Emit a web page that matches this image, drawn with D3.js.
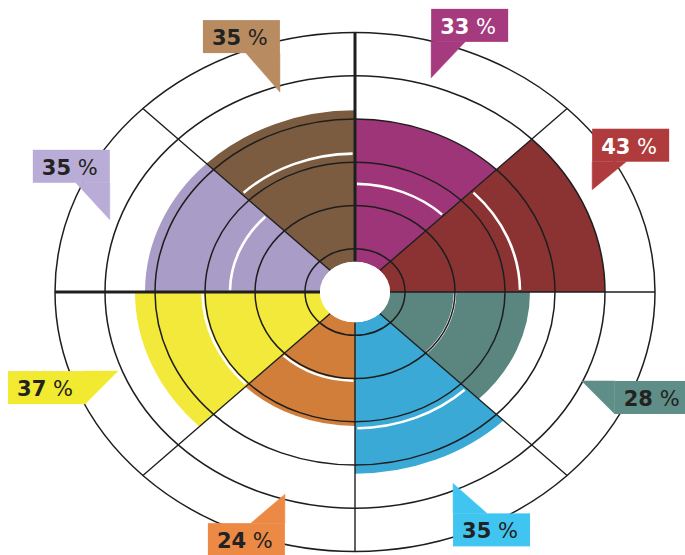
<!DOCTYPE html>
<html>
<head>
<meta charset="utf-8">
<script src="https://cdn.jsdelivr.net/npm/d3@7"></script>
<style>
  html, body { margin: 0; padding: 0; background: #fff; }
  svg { display: block; }
</style>
</head>
<body>
<svg id="chart" width="685" height="555"></svg>
<script>
// sectors, clockwise from 12 o'clock
const sectors = ["magenta", "red", "teal", "blue", "orange", "yellow", "lavender", "brown"];
const values = [33, 43, 28, 35, 24, 37, 35, 35];
// white marker arc inside each sector
const markers = [18, 26, 13, 24.5, 13.5, 23.5, 18, 25];
const gridValues = [3, 13, 23, 33, 43, 53];

const fillColors = ["#9e3579", "#8b3333", "#5b857f", "#3aa9d5", "#d27e3b", "#f2e93b", "#a99cc7", "#7b5c40"];
const boxColors = ["#a53a7e", "#b03b3c", "#5f8d87", "#40c5f0", "#ec8a45", "#f2ea30", "#b9add8", "#b88b61"];
const textColors = ["#fff", "#fff", "#222", "#222", "#222", "#222", "#222", "#222"];

// callout placement: tip in polar coords (deg clockwise from top, px) and side of box
const callouts = [
    { a: 17.1, r: 259, place: "upL", len: 36 },
    { a: 63.5, r: 265, place: "upL", len: 28 },
    { a: 114.4, r: 249, place: "right", len: 33 },
    { a: 156.1, r: 242, place: "downL", len: 30 },
    { a: 196.7, r: 244, place: "downR", len: 29 },
    { a: 248.9, r: 254, place: "left", len: 33 },
    { a: 288.8, r: 259, place: "upR", len: 37 },
    { a: 342, r: 243, place: "upR", len: 39 }
];

const cx = 355, cy = 292, k = 0.865;
const svg = d3.select("#chart");

const rScale = d3.scaleLinear().domain([0, 53]).range([35, 300]);
const angle = d3.scaleBand().domain(sectors).range([0, 2 * Math.PI]);
const bw = angle.bandwidth();

const data = sectors.map((s, i) => ({ key: s, value: values[i], marker: markers[i], i: i }));

const g = svg.append("g").attr("transform", `translate(${cx},${cy}) scale(1,${k})`);

// sector fills
const arc = d3.arc()
    .innerRadius(rScale(0))
    .outerRadius((d) => rScale(d.value))
    .startAngle((d) => angle(d.key))
    .endAngle((d) => angle(d.key) + bw);

g.selectAll("path.sector")
    .data(data)
    .enter()
    .append("path")
    .attr("class", "sector")
    .attr("d", arc)
    .attr("fill", (d) => fillColors[d.i]);

// white marker arcs
g.selectAll("path.marker")
    .data(data)
    .enter()
    .append("path")
    .attr("class", "marker")
    .attr("d", (d) => {
        const p = d3.path();
        const a0 = angle(d.key) - Math.PI / 2 + 0.015;
        const a1 = angle(d.key) + bw - Math.PI / 2 - 0.015;
        p.arc(0, 0, rScale(d.marker), a0, a1);
        return p.toString();
    })
    .attr("fill", "none")
    .attr("stroke", "#fff")
    .attr("stroke-width", 2.6)
    .attr("vector-effect", "non-scaling-stroke");

// rings
g.selectAll("circle.ring")
    .data(gridValues)
    .enter()
    .append("circle")
    .attr("class", "ring")
    .attr("r", (d) => rScale(d))
    .attr("fill", "none")
    .attr("stroke", "#1e1e1e")
    .attr("stroke-width", 1.5)
    .attr("vector-effect", "non-scaling-stroke");

// radial lines, the 12 o'clock and 9 o'clock ones heavier
const r0 = rScale(0), r1 = rScale(d3.max(gridValues));
g.selectAll("line.spoke")
    .data(sectors)
    .enter()
    .append("line")
    .attr("class", "spoke")
    .attr("x1", (d) => r0 * Math.sin(angle(d)))
    .attr("y1", (d) => -r0 * Math.cos(angle(d)))
    .attr("x2", (d) => r1 * Math.sin(angle(d)))
    .attr("y2", (d) => -r1 * Math.cos(angle(d)))
    .attr("stroke", "#1e1e1e")
    .attr("stroke-width", (d) => (d === "magenta" || d === "lavender" ? 3 : 1.4))
    .attr("vector-effect", "non-scaling-stroke");

// centre hole
g.append("circle").attr("r", r0).attr("fill", "#fff");

// callouts
const W = 77, H = 33, B = 34;
const labels = svg.selectAll("g.callout")
    .data(data)
    .enter()
    .append("g")
    .attr("class", "callout");

labels.each(function (d) {
    const c = callouts[d.i];
    const t = (c.a * Math.PI) / 180;
    const tx = cx + c.r * Math.sin(t);
    const ty = cy - k * c.r * Math.cos(t);
    let x0, y0, tri;
    if (c.place === "upL") {
        x0 = tx; y0 = ty - c.len - H;
        tri = [[x0, y0 + H], [x0 + B, y0 + H], [tx, ty]];
    } else if (c.place === "upR") {
        x0 = tx - W; y0 = ty - c.len - H;
        tri = [[x0 + W - B, y0 + H], [x0 + W, y0 + H], [tx, ty]];
    } else if (c.place === "downL") {
        x0 = tx; y0 = ty + c.len;
        tri = [[x0, y0], [x0 + B, y0], [tx, ty]];
    } else if (c.place === "downR") {
        x0 = tx - W; y0 = ty + c.len;
        tri = [[x0 + W - B, y0], [x0 + W, y0], [tx, ty]];
    } else if (c.place === "right") {
        x0 = tx + c.len; y0 = ty;
        tri = [[x0, y0], [x0, y0 + H], [tx, ty]];
    } else {
        x0 = tx - c.len - W; y0 = ty;
        tri = [[x0 + W, y0], [x0 + W, y0 + H], [tx, ty]];
    }
    const sel = d3.select(this);
    sel.append("rect")
        .attr("x", x0).attr("y", y0)
        .attr("width", W).attr("height", H)
        .attr("fill", boxColors[d.i]);
    sel.append("path")
        .attr("d", d3.line()(tri) + "Z")
        .attr("fill", boxColors[d.i])
        .attr("stroke", boxColors[d.i])
        .attr("stroke-width", 0.5);
    const txt = sel.append("text")
        .attr("x", x0 + 9)
        .attr("y", y0 + 25)
        .attr("fill", textColors[d.i])
        .style("font-family", "'DejaVu Sans', sans-serif")
        .style("font-size", "21px");
    txt.append("tspan").style("font-weight", "bold").text(d.value);
    txt.append("tspan").text(" %");
});
</script>
</body>
</html>
